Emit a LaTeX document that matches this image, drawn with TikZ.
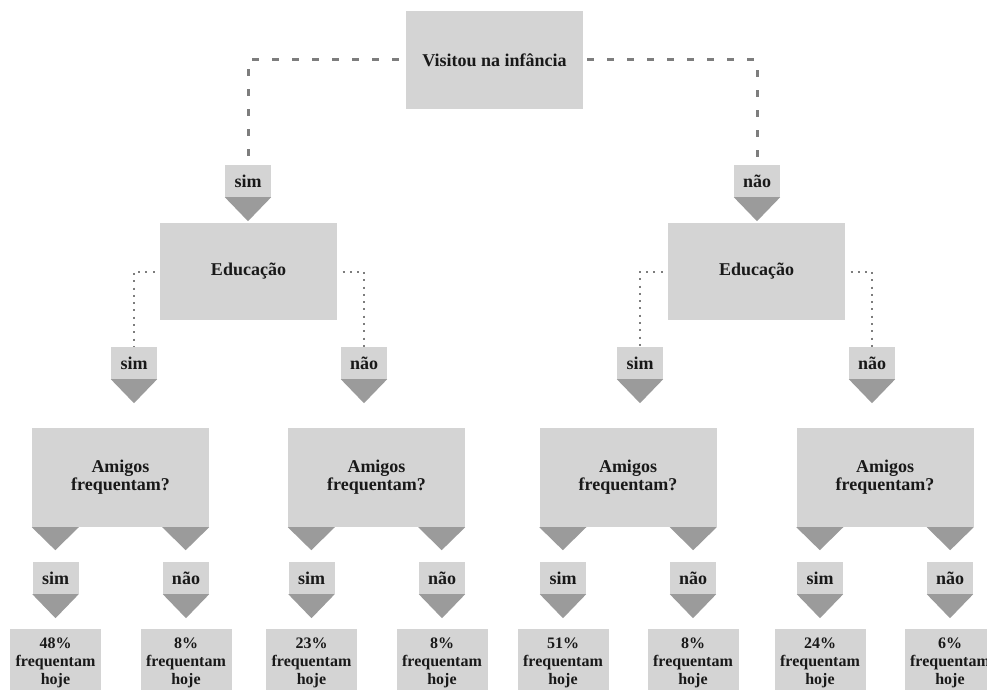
\documentclass[tikz,border=0pt]{standalone}
\usepackage{fontspec}
\setmainfont{Liberation Serif}
\usetikzlibrary{calc,backgrounds}
\definecolor{boxgray}{RGB}{212,212,212}
\definecolor{trigray}{RGB}{155,155,155}
\definecolor{linegray}{RGB}{125,125,125}
\definecolor{ink}{RGB}{25,25,25}

% a small answer tag with a downward pointer under it
\newcommand\answertag[3]{%
  \node[tag] (#1) at (#2) {#3};
  \fill[pointer] (#1.south west) -- (#1.south east) -- ($(#1.south)+(0,24)$) -- cycle;
}
% a question box with two pointers hanging from its lower corners
\newcommand\splitbox[3]{%
  \node[qbox, minimum height=99pt] (#1) at (#2) {#3};
  \fill[pointer] (#1.south west) -- ++(47,0) -- ++(-23.5,23) -- cycle;
  \fill[pointer] (#1.south east) -- ++(-47,0) -- ++(23.5,23) -- cycle;
}

\begin{document}
\begin{tikzpicture}[x=1pt,y=-1pt,
  every node/.style={font=\bfseries\fontsize{18}{18}\selectfont, text=ink},
  qbox/.style={fill=boxgray, minimum width=177pt, minimum height=98pt, inner sep=0pt, align=center},
  tag/.style={fill=boxgray, minimum width=46pt, minimum height=32pt, inner sep=0pt},
  result/.style={fill=boxgray, minimum width=91pt, minimum height=68pt, inner sep=0pt, align=center,
    font=\bfseries\fontsize{16}{18}\selectfont},
  pointer/.style={fill=trigray},
  toplink/.style={draw=linegray, line width=3pt, dash pattern=on 7pt off 13pt},
  sublink/.style={draw=linegray, line width=2pt, dash pattern=on 2pt off 5.3pt}
]
\useasboundingbox (0,0) rectangle (987,690);

% root question
\node[qbox] (root) at (494.5,60) {Visitou na infância};
\answertag{rsim}{248,181}{sim}
\answertag{rnao}{757,181}{não}

% second level
\node[qbox, minimum height=97pt] (eduL) at (248.5,271.5) {Educação};
\node[qbox, minimum height=97pt] (eduR) at (756.5,271.5) {Educação};
\answertag{lsim}{134,363}{sim}
\answertag{lnao}{364,363}{não}
\answertag{rsim2}{640,363}{sim}
\answertag{rnao2}{872,363}{não}

% third level
\splitbox{am1}{120.5,477.5}{Amigos\\frequentam?}
\splitbox{am2}{376.5,477.5}{Amigos\\frequentam?}
\splitbox{am3}{628,477.5}{Amigos\\frequentam?}
\splitbox{am4}{885,477.5}{Amigos\\frequentam?}

\answertag{s1}{55.5,578}{sim}
\answertag{n1}{186,578}{não}
\answertag{s2}{311.5,578}{sim}
\answertag{n2}{442,578}{não}
\answertag{s3}{563,578}{sim}
\answertag{n3}{693,578}{não}
\answertag{s4}{820,578}{sim}
\answertag{n4}{950,578}{não}

% outcomes
\node[result] (o1) at (55.5,663) {48\%\\frequentam\\hoje};
\node[result] (o2) at (186,663) {8\%\\frequentam\\hoje};
\node[result] (o3) at (311.5,663) {23\%\\frequentam\\hoje};
\node[result] (o4) at (442,663) {8\%\\frequentam\\hoje};
\node[result] (o5) at (563,663) {51\%\\frequentam\\hoje};
\node[result] (o6) at (693,663) {8\%\\frequentam\\hoje};
\node[result] (o7) at (820,663) {24\%\\frequentam\\hoje};
\node[result] (o8) at (950,663) {6\%\\frequentam\\hoje};

% connectors
\begin{pgfonlayer}{background}
  \draw[toplink, dash phase=13pt] (root.west) -| (rsim.north);
  \draw[toplink, dash phase=16pt] (root.east) -| (rnao.north);
  \draw[sublink, dash phase=2pt] (eduL.west) -| (lsim.north);
  \draw[sublink, dash phase=2pt] (eduL.east) -| (lnao.north);
  \draw[sublink, dash phase=2pt] (eduR.west) -| (rsim2.north);
  \draw[sublink, dash phase=2pt] (eduR.east) -| (rnao2.north);
\end{pgfonlayer}
\end{tikzpicture}
\end{document}
